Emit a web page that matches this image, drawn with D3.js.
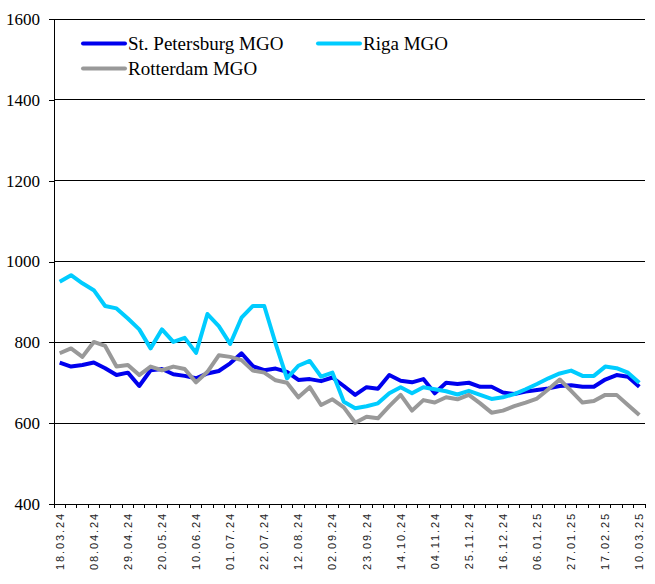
<!DOCTYPE html>
<html>
<head>
<meta charset="utf-8">
<script src="https://cdn.jsdelivr.net/npm/d3@7"></script>
<style>
    body { margin: 0; background: #fff; }
    svg { display: block; }
    .serif { font-family: "Liberation Serif", "Times New Roman", Times, serif; }
    .sans { font-family: "Liberation Sans", Arial, Helvetica, sans-serif; }
</style>
</head>
<body>
<div id="chart"></div>
<script>
// weekly categories
var dates = ["18.03.24", "25.03.24", "01.04.24", "08.04.24", "15.04.24", "22.04.24", "29.04.24",
    "06.05.24", "13.05.24", "20.05.24", "27.05.24", "03.06.24", "10.06.24", "17.06.24", "24.06.24",
    "01.07.24", "08.07.24", "15.07.24", "22.07.24", "29.07.24", "05.08.24", "12.08.24", "19.08.24",
    "26.08.24", "02.09.24", "09.09.24", "16.09.24", "23.09.24", "30.09.24", "07.10.24", "14.10.24",
    "21.10.24", "28.10.24", "04.11.24", "11.11.24", "18.11.24", "25.11.24", "02.12.24", "09.12.24",
    "16.12.24", "23.12.24", "30.12.24", "06.01.25", "13.01.25", "20.01.25", "27.01.25", "03.02.25",
    "10.02.25", "17.02.25", "24.02.25", "03.03.25", "10.03.25"];

var stPetersburg = [750, 740, 744, 750, 736, 719, 725, 692, 731, 734, 721, 717, 711, 723, 729,
    748, 773, 741, 731, 735, 727, 707, 709, 704, 713, 692, 670, 689, 685, 719, 705,
    701, 709, 674, 700, 697, 700, 690, 690, 676, 672, 678, 682, 686, 692, 694, 690,
    690, 708, 719, 715, 690];

var riga = [950, 966, 946, 929, 890, 884, 859, 832, 785, 832, 801, 811, 774, 870, 840,
    796, 861, 890, 890, 797, 711, 742, 754, 715, 725, 653, 637, 642, 649, 674, 689,
    674, 689, 684, 679, 671, 680, 670, 660, 664, 672, 684, 697, 711, 723, 730, 717,
    717, 740, 736, 725, 700];

var rotterdam = [773, 785, 764, 801, 791, 740, 744, 719, 740, 731, 740, 734, 701, 727, 768,
    764, 756, 730, 725, 706, 700, 664, 689, 645, 659, 639, 601, 616, 612, 642, 670,
    631, 657, 651, 664, 659, 670, 649, 626, 631, 642, 651, 661, 684, 708, 680, 651,
    655, 670, 670, 645, 620];

var yTicks = [400, 600, 800, 1000, 1200, 1400, 1600];

var seriesNames = ["St. Petersburg MGO", "Riga MGO", "Rotterdam MGO"];
var seriesColors = ["#0000ee", "#00ccff", "#999999"];

var W = 655, H = 584,
    margin = { top: 19, right: 10, bottom: 80, left: 54 },
    width = W - margin.left - margin.right,
    height = H - margin.top - margin.bottom;

var svg = d3.select("#chart").append("svg")
    .attr("width", W)
    .attr("height", H);

var g = svg.append("g").attr("transform", "translate(" + margin.left + "," + margin.top + ")");

var x = d3.scaleBand()
    .domain(dates)
    .range([0, width])
    .padding(0);

var y = d3.scaleLinear()
    .domain([400, 1600])
    .range([height, 0]);

// gridlines
g.append("g")
    .selectAll("line")
    .data(yTicks.slice(1))
    .enter().append("line")
    .attr("x1", 0)
    .attr("x2", width)
    .attr("y1", function(d) { return y(d); })
    .attr("y2", function(d) { return y(d); })
    .attr("stroke", "#000")
    .attr("stroke-width", 1)
    .attr("shape-rendering", "crispEdges");

// y axis
var yAxis = g.append("g")
    .call(d3.axisLeft(y).tickValues(yTicks).tickSize(5).tickPadding(9).tickFormat(d3.format("d")));
yAxis.attr("font-family", null).attr("font-size", null);
yAxis.selectAll("path, line").attr("stroke", "#000").attr("shape-rendering", "crispEdges");
yAxis.selectAll("text")
    .attr("class", "serif")
    .style("font-size", "17px")
    .attr("fill", "#000");

// x axis: ticks at category boundaries, labels every 3rd category
var xAxis = g.append("g")
    .attr("transform", "translate(0," + height + ")");

xAxis.append("line")
    .attr("x1", 0).attr("x2", width)
    .attr("y1", 0).attr("y2", 0)
    .attr("stroke", "#000")
    .attr("shape-rendering", "crispEdges");

xAxis.selectAll(".tk")
    .data(dates.concat(["end"]))
    .enter().append("line")
    .attr("class", "tk")
    .attr("x1", function(d, i) { return i < dates.length ? x(d) : width; })
    .attr("x2", function(d, i) { return i < dates.length ? x(d) : width; })
    .attr("y1", 0)
    .attr("y2", 4)
    .attr("stroke", "#000")
    .attr("shape-rendering", "crispEdges");

xAxis.selectAll(".lbl")
    .data(dates.filter(function(d, i) { return i % 3 === 0; }))
    .enter().append("text")
    .attr("class", "sans")
    .attr("transform", function(d) {
        return "translate(" + (x(d) + x.bandwidth() / 2 + 4) + ",8) rotate(-90)";
    })
    .attr("text-anchor", "end")
    .style("font-size", "11px")
    .style("letter-spacing", "1.9px")
    .attr("fill", "#222")
    .text(function(d) { return d; });

// lines
var line = d3.line()
    .x(function(d, i) { return x(dates[i]) + x.bandwidth() / 2; })
    .y(function(d) { return y(d); });

[stPetersburg, riga, rotterdam].forEach(function(s, k) {
    g.append("path")
        .datum(s)
        .attr("fill", "none")
        .attr("stroke", seriesColors[k])
        .attr("stroke-width", 4)
        .attr("stroke-linejoin", "round")
        .attr("d", line);
});

// legend
var legendPos = [[83, 43.5], [318, 43.5], [83, 68.5]];
var legend = svg.append("g")
    .selectAll("g")
    .data(seriesNames)
    .enter().append("g")
    .attr("transform", function(d, i) {
        return "translate(" + legendPos[i][0] + "," + legendPos[i][1] + ")";
    });

legend.append("line")
    .attr("x1", 0)
    .attr("x2", 42)
    .attr("stroke", function(d, i) { return seriesColors[i]; })
    .attr("stroke-width", 4)
    .attr("stroke-linecap", "round");

legend.append("text")
    .attr("class", "serif")
    .attr("x", 45)
    .attr("dy", "0.33em")
    .style("font-size", "19px")
    .attr("fill", "#000")
    .text(function(d) { return d; });
</script>
</body>
</html>
